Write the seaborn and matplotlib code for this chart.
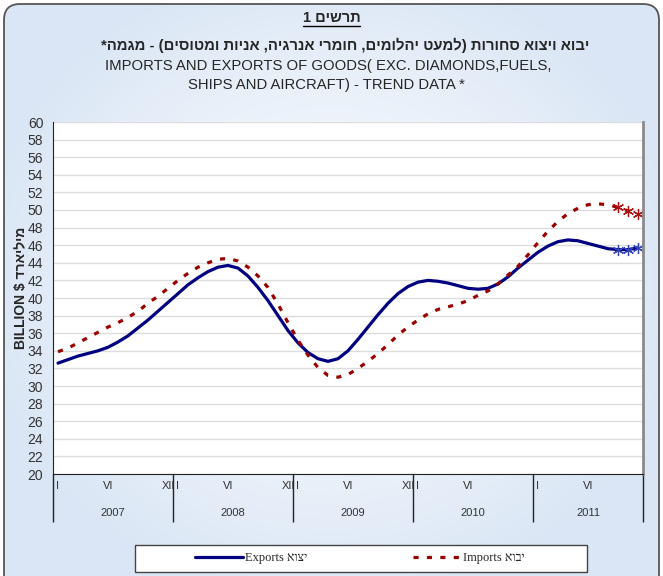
import numpy as np
import pandas as pd
import matplotlib
matplotlib.use('Agg')
import matplotlib.pyplot as plt
import seaborn as sns
from matplotlib.colors import LinearSegmentedColormap
from matplotlib.patches import FancyBboxPatch, Rectangle
from matplotlib.lines import Line2D

# monthly trend data, Jan 2007 - Nov 2011 (billion $)
exports = [32.6, 33.0, 33.4, 33.7, 34.0, 34.4, 35.0, 35.7, 36.6, 37.5, 38.5, 39.5,
           40.5, 41.5, 42.3, 43.0, 43.5, 43.7, 43.4, 42.5, 41.2, 39.7, 38.0, 36.3,
           34.9, 33.8, 33.1, 32.8, 33.1, 34.0, 35.3, 36.7, 38.1, 39.4, 40.5, 41.3,
           41.8, 42.0, 41.9, 41.7, 41.4, 41.1, 41.0, 41.1, 41.6, 42.4, 43.4, 44.3,
           45.2, 45.9, 46.4, 46.6, 46.5, 46.2, 45.9, 45.6, 45.5, 45.5, 45.7]
imports = [33.9, 34.3, 34.9, 35.5, 36.1, 36.7, 37.2, 37.8, 38.5, 39.4, 40.2, 41.1,
           42.0, 42.8, 43.5, 44.0, 44.4, 44.5, 44.2, 43.5, 42.5, 41.2, 39.3, 37.2,
           35.2, 33.5, 32.1, 31.2, 31.0, 31.3, 32.0, 32.8, 33.7, 34.7, 35.8, 36.7,
           37.5, 38.2, 38.7, 39.0, 39.3, 39.7, 40.3, 40.8, 41.6, 42.6, 43.6, 44.9,
           46.3, 47.6, 48.7, 49.6, 50.2, 50.6, 50.7, 50.6, 50.3, 49.9, 49.6]
provisional = [56, 57, 58]  # last months drawn with star markers
years = ['2007', '2008', '2009', '2010', '2011']
roman = ['I', 'II', 'III', 'IV', 'V', 'VI', 'VII', 'VIII', 'IX', 'X', 'XI', 'XII']
shown_labels = {0, 5, 11, 12, 17, 23, 24, 29, 35, 36, 41, 48, 53}

n = len(exports)
df = pd.DataFrame({'month': np.arange(n) + 0.5, 'exports': exports, 'imports': imports})
month_labels = [roman[i % 12] if i in shown_labels else '' for i in range(n)]


def rtl(s):
    # full right-to-left line (matplotlib has no bidi support)
    mirror = {'(': ')', ')': '('}
    return ''.join(mirror.get(c, c) for c in s[::-1])


def rtl_words(s):
    # only hebrew words flipped, word order kept (mixed english/hebrew labels)
    out = []
    for w in s.split(' '):
        if any('\u0590' <= c <= '\u05ff' for c in w):
            out.append(w[::-1])
        else:
            out.append(w)
    return ' '.join(out)


sns.set_style('white')
plt.rcParams['font.family'] = ['Liberation Sans', 'DejaVu Sans']

fig = plt.figure(figsize=(6.63, 5.76), dpi=100)

# chart area background with soft blue gradient and rounded border
bg = fig.add_axes([0, 0, 1, 1])
bg.set_axis_off()
bg.set_xlim(0, 663)
bg.set_ylim(576, 0)
yy, xx = np.mgrid[0:576, 0:663]
r = np.sqrt(((xx - 331) / 360.0) ** 2 + ((yy - 280) / 330.0) ** 2)
cmap = LinearSegmentedColormap.from_list('bg', ['#f6f9fd', '#dae6f5'])
im = bg.imshow(r, cmap=cmap, vmin=0.25, vmax=1.0, extent=(0, 663, 576, 0), aspect='auto')
frame = FancyBboxPatch((4, 4), 655, 600, boxstyle='round,pad=0,rounding_size=16',
                       fc='none', ec='#555555', lw=1.3)
bg.add_patch(frame)
im.set_clip_path(frame)
bg.add_patch(Rectangle((135, 545), 452, 27, fc='white', ec='#444444', lw=1))

# plot area
ax = fig.add_axes([53 / 663, 1 - 474 / 576, 590 / 663, 352 / 576])
ax.set_facecolor('white')
ax.set_ylim(20, 60)
ax.set_xlim(0, n)
ax.set_yticks(range(20, 61, 2))
ax.grid(axis='y', color='#dcdcdc', lw=1)
ax.set_axisbelow(True)

sns.lineplot(data=df, x='month', y='exports', ax=ax, color='#000080', lw=2.3,
             marker=(6, 2, 0), markevery=provisional, markersize=8,
             markeredgecolor='#3344bb', markeredgewidth=0.9, label=rtl_words('Exports יצוא'))
sns.lineplot(data=df, x='month', y='imports', ax=ax, color='#990000', lw=2.3,
             marker=(6, 2, 0), markevery=provisional, markersize=8,
             markeredgecolor='#aa1111', markeredgewidth=0.9, label=rtl_words('Imports יבוא'))
ax.lines[1].set_dashes((1.6, 2.6))
if ax.get_legend():
    ax.get_legend().remove()

ax.spines['top'].set_visible(False)
ax.spines['left'].set_color('#222222')
ax.spines['bottom'].set_color('#222222')
ax.spines['right'].set_color('#8a8a8a')
ax.spines['right'].set_linewidth(2)

ax.tick_params(axis='y', direction='inout', length=8, width=0.8, color='#222222',
               labelsize=10, labelcolor='#333333', pad=3)
ax.set_xticks(df['month'])
ax.set_xticklabels(month_labels)
ax.set_xticks(np.arange(0, n + 1), minor=True)
ax.tick_params(axis='x', which='major', length=0, labelsize=8, labelcolor='#333333', pad=5)
ax.tick_params(axis='x', which='minor', direction='out', length=12, width=0.8, color='#222222')

bounds = [0, 12, 24, 36, 48, n]
ax.vlines(bounds, -0.137, 0, transform=ax.get_xaxis_transform(), colors='#222222',
          lw=1, clip_on=False)
for i, y in enumerate(years):
    ax.text((bounds[i] + bounds[i + 1]) / 2, -0.111, y, transform=ax.get_xaxis_transform(),
            ha='center', va='center', fontsize=8, color='#333333')

ax.set_xlabel('')
ax.set_ylabel(rtl_words('BILLION $ מיליארד'), fontsize=10, fontweight='bold')
ax.yaxis.set_label_coords(-0.043, 0.528)

# titles
t1 = fig.text(0.5, 1 - 18 / 576, rtl('תרשים 1'), ha='center', va='center',
              fontsize=10.5, fontweight='bold')
fig.text(0.52, 1 - 45 / 576, rtl('יבוא ויצוא סחורות (למעט יהלומים, חומרי אנרגיה, אניות ומטוסים) - מגמה*'),
         ha='center', va='center', fontsize=10.7, fontweight='bold')
fig.text(0.495, 1 - 66 / 576, 'IMPORTS AND EXPORTS OF GOODS( EXC. DIAMONDS,FUELS,',
         ha='center', va='center', fontsize=10.7)
fig.text(0.493, 1 - 85 / 576, 'SHIPS AND AIRCRAFT) - TREND DATA *',
         ha='center', va='center', fontsize=10.7)

fig.canvas.draw()
bb = t1.get_window_extent().transformed(fig.transFigure.inverted())
fig.add_artist(Line2D([bb.x0, bb.x1], [bb.y0 - 0.002, bb.y0 - 0.002], color='black', lw=1,
                      transform=fig.transFigure))

# legend
handles, labels = ax.get_legend_handles_labels()
h1 = Line2D([], [], color='#000080', lw=2.3)
h2 = Line2D([], [], color='#990000', lw=2.3, dashes=(1.6, 2.6))
leg = fig.legend([h1, h2], labels, loc='center', ncol=2,
                 bbox_to_anchor=(360 / 663, 1 - 558 / 576),
                 frameon=False, handlelength=3.8, columnspacing=8.5,
                 prop={'family': ['Liberation Serif', 'DejaVu Serif'], 'size': 9},
                 borderaxespad=0, borderpad=0.2, handletextpad=0.15)

fig.savefig('out.png', dpi=100)
